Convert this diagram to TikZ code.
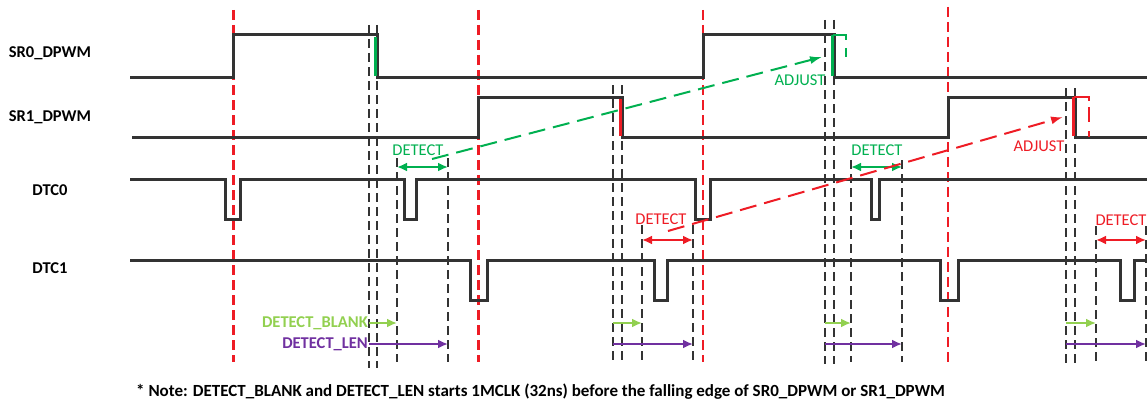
\documentclass[tikz,border=0pt]{standalone}
\usepackage{fontspec}
\setmainfont{Carlito}
\usetikzlibrary{arrows.meta}
\definecolor{wave}{HTML}{333333}
\definecolor{sgreen}{HTML}{00B050}
\definecolor{lgreen}{HTML}{92D050}
\definecolor{spurple}{HTML}{7030A0}
\definecolor{sred}{HTML}{EE1C25}
\tikzset{
  wavepath/.style={draw=wave, line width=3pt, line join=miter},
  vblack/.style={draw=wave, line width=1.3pt, dash pattern=on 9pt off 5pt},
  vblackthick/.style={draw=wave, line width=2pt, dash pattern=on 9pt off 5pt},
  vredthick/.style={draw=sred, line width=3pt, dash pattern=on 10pt off 5pt},
  vredthin/.style={draw=sred, line width=1.3pt, dash pattern=on 10pt off 5pt},
  siglabel/.style={font=\fontsize{16.5}{18}\selectfont\bfseries, text=black, inner sep=0pt},
  annot/.style={font=\fontsize{16.5}{18}\selectfont, inner sep=0pt},
  legend/.style={font=\fontsize{16.5}{18}\selectfont\bfseries, inner sep=0pt, anchor=east},
  detarrow/.style={line width=2.5pt, {Latex[length=10pt,width=9pt]}-{Latex[length=10pt,width=9pt]}},
  blankarrow/.style={draw=lgreen, line width=2.5pt, -{Latex[length=10pt,width=9pt]}},
  lenarrow/.style={draw=spurple, line width=2pt, -{Latex[length=10pt,width=9pt]}},
  adjarrow/.style={line width=2pt, dash pattern=on 17pt off 8pt, -{Latex[length=12pt,width=8pt]}},
}
\begin{document}
\begin{tikzpicture}[x=1pt,y=-1pt]
\useasboundingbox (0,0) rectangle (1147,404);

% vertical reference lines
\draw[vredthick] (233,10) -- (233,362);
\draw[vredthick] (478,10) -- (478,362);
\draw[vredthin] (703,10) -- (703,362);
\draw[vredthin] (948,7) -- (948,362);

\draw[vblackthick] (369,25) -- (369,368);
\draw[vblackthick] (377,25) -- (377,368);
\draw[vblack] (613,85) -- (613,364);
\draw[vblack] (622,85) -- (622,364);
\draw[vblack] (825,20) -- (825,364);
\draw[vblack] (834,20) -- (834,364);
\draw[vblack] (1066,88) -- (1066,364);
\draw[vblack] (1075,88) -- (1075,364);

\draw[vblack] (397,158) -- (397,362);
\draw[vblack] (448,158) -- (448,362);
\draw[vblack] (642,225) -- (642,362);
\draw[vblack] (693,225) -- (693,362);
\draw[vblack] (851,160) -- (851,362);
\draw[vblack] (902,160) -- (902,362);
\draw[vblack] (1096,226) -- (1096,362);
\draw[vblack] (1146,226) -- (1146,362);

% waveforms
\draw[wavepath] (130,77) -- (233,77) -- (233,35) -- (377,35) -- (377,77) -- (703,77) -- (703,35) -- (834,35) -- (834,77) -- (1147,77);
\draw[wavepath] (132,137) -- (478,137) -- (478,97) -- (622,97) -- (622,137) -- (948,137) -- (948,97) -- (1075,97) -- (1075,137) -- (1147,137);
\draw[wavepath] (130,179) -- (225,179) -- (225,219) -- (240,219) -- (240,179)
  -- (404,179) -- (404,219) -- (416,219) -- (416,179)
  -- (695,179) -- (695,219) -- (710,219) -- (710,179)
  -- (871,179) -- (871,219) -- (879,219) -- (879,179) -- (1147,179);
\draw[wavepath] (130,260) -- (470,260) -- (470,300) -- (487,300) -- (487,260)
  -- (654,260) -- (654,300) -- (667,300) -- (667,260)
  -- (940,260) -- (940,300) -- (958,300) -- (958,260)
  -- (1120,260) -- (1120,300) -- (1134,300) -- (1134,260) -- (1147,260);

% edge highlights
\draw[sgreen, line width=3pt] (375,37) -- (375,76);
\draw[sred, line width=3pt] (620.5,99) -- (620.5,136);

% adjust brackets
\draw[sgreen, line width=3pt] (832.5,35) -- (832.5,76);
\draw[sgreen, line width=2.5pt] (832.5,35) -- (846,35) -- (846,40);
\draw[sgreen, line width=2.5pt] (846,48) -- (846,57);
\draw[sred, line width=3pt] (1073.5,97) -- (1073.5,136);
\draw[sred, line width=2.5pt] (1073.5,97) -- (1089,97) -- (1089,101);
\draw[sred, line width=2.5pt] (1089,107) -- (1089,122);
\draw[sred, line width=2.5pt] (1089,131) -- (1089,137);

% signal labels
\node[siglabel] (lsr0) at (50,53) {SR0\_DPWM};
\node[siglabel] (lsr1) at (50,117) {SR1\_DPWM};
\node[siglabel] (ldtc0) at (50,190) {DTC0};
\node[siglabel] (ldtc1) at (50,268) {DTC1};

% detect windows
\coordinate (gd1a) at (397,167); \coordinate (gd1b) at (448,167);
\coordinate (rd1a) at (642,240); \coordinate (rd1b) at (693,240);
\coordinate (gd2a) at (851,167); \coordinate (gd2b) at (902,167);
\coordinate (rd2a) at (1096,240); \coordinate (rd2b) at (1146,240);
\draw[detarrow, sgreen] (gd1a) -- (gd1b);
\draw[detarrow, sred] (rd1a) -- (rd1b);
\draw[detarrow, sgreen] (gd2a) -- (gd2b);
\draw[detarrow, sred] (rd2a) -- (rd2b);

\node[annot, text=sgreen] (det1) at (418,150) {DETECT};
\node[annot, text=sred] (det2) at (661,219) {DETECT};
\node[annot, text=sgreen] (det3) at (877,150) {DETECT};
\node[annot, text=sred] (det4) at (1121,220) {DETECT};

\node[annot, text=sgreen] (adj1) at (800,80) {ADJUST};
\node[annot, text=sred] (adj2) at (1039,146) {ADJUST};

% adjust arrows
\coordinate (ga) at (432,159); \coordinate (gb) at (822,57);
\coordinate (ra) at (668,231); \coordinate (rb) at (1063,117);
\draw[adjarrow, sgreen] (ga) -- (gb);
\draw[adjarrow, sred] (ra) -- (rb);

% blank / len arrows
\coordinate (b1a) at (369,323); \coordinate (b1b) at (397,323);
\coordinate (b2a) at (613,323); \coordinate (b2b) at (642,323);
\coordinate (b3a) at (825,323); \coordinate (b3b) at (851,323);
\coordinate (b4a) at (1066,323); \coordinate (b4b) at (1096,323);
\draw[blankarrow] (b1a) -- (b1b);
\draw[blankarrow] (b2a) -- (b2b);
\draw[blankarrow] (b3a) -- (b3b);
\draw[blankarrow] (b4a) -- (b4b);
\coordinate (l1a) at (369,344); \coordinate (l1b) at (448,344);
\coordinate (l2a) at (613,344); \coordinate (l2b) at (693,344);
\coordinate (l3a) at (825,344); \coordinate (l3b) at (902,344);
\coordinate (l4a) at (1066,344); \coordinate (l4b) at (1146,344);
\draw[lenarrow] (l1a) -- (l1b);
\draw[lenarrow] (l2a) -- (l2b);
\draw[lenarrow] (l3a) -- (l3b);
\draw[lenarrow] (l4a) -- (l4b);

\node[legend, text=lgreen] (lblank) at (368,323) {DETECT\_BLANK};
\node[legend, text=spurple] (llen) at (368,344) {DETECT\_LEN};

% note
\node[font=\fontsize{17}{19}\selectfont\bfseries, inner sep=0pt, anchor=west] (note) at (136,392) {* Note: DETECT\_BLANK and DETECT\_LEN starts 1MCLK (32ns) before the falling edge of SR0\_DPWM or SR1\_DPWM};
\end{tikzpicture}
\end{document}
